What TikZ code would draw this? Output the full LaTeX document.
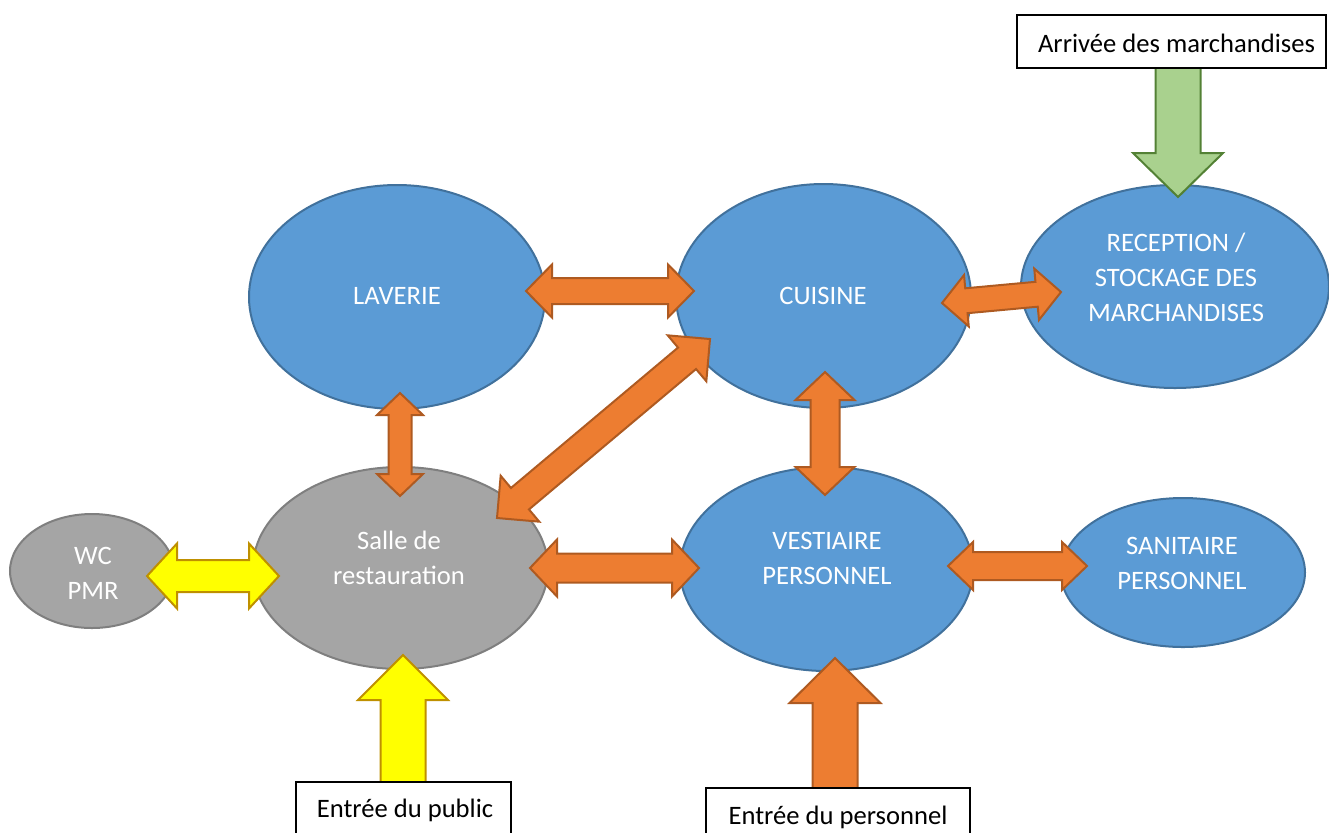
\documentclass[tikz,border=0pt]{standalone}
\usepackage{fontspec}
\setmainfont{Carlito}
\usetikzlibrary{shapes.geometric,calc}
\definecolor{bluefill}{HTML}{5B9BD5}
\definecolor{bluedraw}{HTML}{41719C}
\definecolor{grayfill}{HTML}{A5A5A5}
\definecolor{graydraw}{HTML}{7F7F7F}
\definecolor{orangefill}{HTML}{ED7D31}
\definecolor{orangedraw}{HTML}{AE5A21}
\definecolor{yellowfill}{HTML}{FFFF00}
\definecolor{yellowdraw}{HTML}{BF9000}
\definecolor{greenfill}{HTML}{A9D18E}
\definecolor{greendraw}{HTML}{538135}
\tikzset{
  zone/.style={ellipse, inner sep=0pt, line width=1pt},
  bluezone/.style={zone, fill=bluefill, draw=bluedraw},
  grayzone/.style={zone, fill=grayfill, draw=graydraw},
  txt/.style={text=white, align=center, font=\fontsize{13.3}{17.5}\selectfont},
  boxframe/.style={draw=black, fill=white, line width=0.75pt, inner sep=0pt},
  boxtext/.style={font=\fontsize{13.3}{17.5}\selectfont, inner sep=0pt},
  orangearrow/.style={fill=orangefill, draw=orangedraw, line width=1pt, line join=miter},
  yellowarrow/.style={fill=yellowfill, draw=yellowdraw, line width=1pt, line join=miter},
  greenarrow/.style={fill=greenfill, draw=greendraw, line width=1pt, line join=miter},
}
% double block arrow: style, end A, end B, head length, head half width, shaft half width
\newcommand\dblarrow[6]{%
  \path ($(#2)!#4!(#3)$) coordinate (hA) ($(#3)!#4!(#2)$) coordinate (hB);
  \draw[#1] (#2) -- ($(hA)!#5!90:(#3)$) -- ($(hA)!#6!90:(#3)$)
    -- ($(hB)!#6!-90:(#2)$) -- ($(hB)!#5!-90:(#2)$) -- (#3)
    -- ($(hB)!#5!90:(#2)$) -- ($(hB)!#6!90:(#2)$)
    -- ($(hA)!#6!-90:(#3)$) -- ($(hA)!#5!-90:(#3)$) -- cycle;}
% single block arrow: style, tail, tip, head length, head half width, shaft half width
\newcommand\sglarrow[6]{%
  \path ($(#3)!#4!(#2)$) coordinate (hP);
  \draw[#1] (#3) -- ($(hP)!#5!90:(#3)$) -- ($(hP)!#6!90:(#3)$)
    -- ($(#2)!#6!90:(#3)$) -- ($(#2)!#6!-90:(#3)$)
    -- ($(hP)!#6!-90:(#3)$) -- ($(hP)!#5!-90:(#3)$) -- cycle;}
\begin{document}
\begin{tikzpicture}[x=0.5pt, y=-0.5pt]
\useasboundingbox (0,0) rectangle (1329,832);
\clip (0,0) rectangle (1329,832);
% zones
\node[bluezone, minimum width=148pt, minimum height=112pt] (lav) at (397,297) {};
\node[bluezone, minimum width=147.5pt, minimum height=112pt] (cui) at (823.5,296) {};
\node[bluezone, minimum width=154pt, minimum height=101.5pt] (rec) at (1175,286.5) {};
\node[grayzone, minimum width=147.5pt, minimum height=101pt] (sal) at (400.5,568) {};
\node[bluezone, minimum width=146.5pt, minimum height=102pt] (ves) at (826.5,569) {};
\node[bluezone, minimum width=122pt, minimum height=74.5pt] (san) at (1183,572.5) {};
\node[grayzone, minimum width=82pt, minimum height=57pt] (wc) at (92,571) {};
% labels
\node[txt] (lavt) at (397,296) {LAVERIE};
\node[txt] (cuit) at (823,296) {CUISINE};
\node[txt] (rect) at (1176,277) {RECEPTION /\\STOCKAGE DES\\MARCHANDISES};
\node[txt] (salt) at (399,558) {Salle de\\restauration};
\node[txt] (vest) at (827,558) {VESTIAIRE\\PERSONNEL};
\node[txt] (sant) at (1182,563) {SANITAIRE\\PERSONNEL};
\node[txt] (wct) at (93,573) {WC\\PMR};
% arrow ends
\coordinate (lavE) at (526,291); \coordinate (cuiW) at (694,291);
\coordinate (salNE) at (497,518); \coordinate (cuiSW) at (710,339);
\coordinate (cuiE) at (942,303); \coordinate (recW) at (1061,292);
\coordinate (cuiS) at (825,372); \coordinate (vesN) at (825,495);
\coordinate (lavS) at (400,393); \coordinate (salN) at (400,496);
\coordinate (salE) at (530,568); \coordinate (vesW) at (699,568);
\coordinate (vesE) at (948,566); \coordinate (sanW) at (1087,566);
\coordinate (wcE) at (147,576); \coordinate (salW) at (279,576);
\coordinate (salS) at (403,655); \coordinate (pubT) at (403,783);
\coordinate (vesS) at (835,658); \coordinate (perT) at (835,789);
\coordinate (recN) at (1178,197); \coordinate (arrB) at (1178,67);
% connectors
\dblarrow{orangearrow}{lavE}{cuiW}{13pt}{13.25pt}{6.5pt}
\dblarrow{orangearrow}{salNE}{cuiSW}{15pt}{15pt}{7pt}
\dblarrow{orangearrow}{cuiE}{recW}{12.25pt}{12.9pt}{6.25pt}
\dblarrow{orangearrow}{cuiS}{vesN}{14pt}{14.75pt}{7.25pt}
\dblarrow{orangearrow}{lavS}{salN}{11pt}{11.5pt}{5.75pt}
\dblarrow{orangearrow}{salE}{vesW}{13.5pt}{14.25pt}{7.25pt}
\dblarrow{orangearrow}{vesE}{sanW}{12.5pt}{12pt}{7pt}
\dblarrow{yellowarrow}{wcE}{salW}{15pt}{16.25pt}{8pt}
\sglarrow{yellowarrow}{pubT}{salS}{22.5pt}{22.5pt}{11.25pt}
\sglarrow{orangearrow}{perT}{vesS}{22.5pt}{22.75pt}{11.25pt}
\sglarrow{greenarrow}{arrB}{recN}{22pt}{22.5pt}{11.25pt}
% entry boxes
\node[boxframe, minimum width=154.5pt, minimum height=26.5pt] (arr) at (1171.5,41.5) {};
\node[boxtext] (arrt) at (1176.5,43) {Arrivée des marchandises};
\node[boxframe, minimum width=107.5pt, minimum height=28pt] (pub) at (403.5,810) {};
\node[boxtext] (pubt) at (405,810) {Entrée du public};
\node[boxframe, minimum width=132pt, minimum height=29pt] (per) at (838,817) {};
\node[boxtext] (pert) at (838,817) {Entrée du personnel};
\end{tikzpicture}
\end{document}
